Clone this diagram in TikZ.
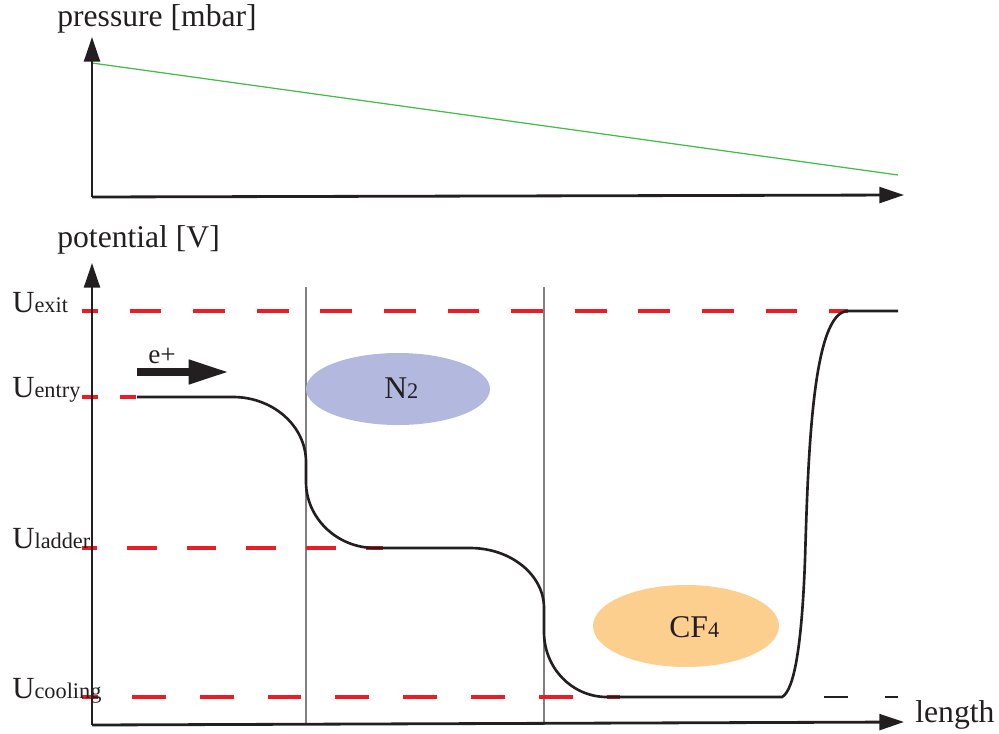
\documentclass[tikz,border=0pt]{standalone}
\usepackage{fontspec}
\setmainfont{Liberation Serif}
\usetikzlibrary{arrows.meta}

\definecolor{levelred}{HTML}{EC1C24}
\definecolor{pressgreen}{HTML}{3DBE45}
\definecolor{nitro}{HTML}{B3B8DE}
\definecolor{cfour}{HTML}{FCCF8E}
\definecolor{inkblack}{HTML}{231F20}

\newcommand{\lvl}[1]{U{\fontsize{12.7}{12.7}\selectfont #1}}

\begin{document}
\begin{tikzpicture}[x=0.02cm,y=-0.02cm,
  axis/.style={line width=1.6pt, draw=inkblack, -{Triangle[length=14pt,width=9pt]}},
  levelline/.style={line width=1.8pt, draw=levelred},
  potential/.style={line width=1.5pt, draw=inkblack},
  divider/.style={line width=0.6pt, draw=black!50},
  biglabel/.style={font=\fontsize{18}{18}\selectfont, text=inkblack, inner sep=0pt, anchor=base west},
  ulabel/.style={font=\fontsize{17.5}{17.5}\selectfont, text=inkblack, inner sep=0pt, anchor=base west},
]
\useasboundingbox (0,0) rectangle (999,733);

% ---------- pressure plot ----------
\coordinate (po) at (92,197);
\coordinate (py) at (92,37);
\coordinate (px) at (904,195);
\coordinate (g1) at (92,63);
\coordinate (g2) at (898,175);
\draw[pressgreen, line width=0.7pt] (g1) -- (g2);
\draw[axis] (po) -- (py);
\draw[axis] (po) -- (px);
\node[biglabel] (plab) at (57,27) {pressure [mbar]};

% ---------- potential plot ----------
\coordinate (o) at (92,725);
\coordinate (vy) at (92,263);
\coordinate (vx) at (904,722);

% region dividers
\coordinate (d1t) at (306,287);
\coordinate (d1b) at (306,725);
\coordinate (d2t) at (544,287);
\coordinate (d2b) at (544,725);
\draw[divider] (d1t) -- (d1b);
\draw[divider] (d2t) -- (d2b);

% gas clouds
\fill[nitro] (398,389) ellipse [x radius=92, y radius=36];
\fill[cfour] (686,626) ellipse [x radius=93, y radius=41];
\node[biglabel] (n2) at (384,398) {N{\fontsize{12.7}{12.7}\selectfont 2}};
\node[biglabel] (cf4) at (669,637) {CF{\fontsize{12.7}{12.7}\selectfont 4}};

% potential levels
\coordinate (ex0) at (82,311);  \coordinate (ex1) at (848,311);
\coordinate (en0) at (82,397);  \coordinate (en1) at (137,397);
\coordinate (la0) at (82,548);  \coordinate (la1) at (383,548);
\coordinate (co0) at (82,697);  \coordinate (co1) at (620,697);
\draw[levelline, dash pattern=on 18.1pt off 18.1pt, dash phase=9.1pt] (ex0) -- (ex1);
\draw[levelline, dash pattern=on 9.1pt off 12.5pt] (en0) -- (en1);
\draw[levelline, dash pattern=on 17pt off 17pt, dash phase=8.5pt] (la0) -- (la1);
\draw[levelline, dash pattern=on 19.3pt off 19.3pt, dash phase=10.2pt] (co0) -- (co1);
\coordinate (bk0) at (824,697); \coordinate (bk1) at (898,697);
\draw[potential, dash pattern=on 13.6pt off 21pt] (bk0) -- (bk1);

% potential curve: entry -> ladder -> cooling -> exit
\coordinate (top) at (898,311);
\draw[potential] (en1) -- (233,397)
  .. controls (273,397) and (306,426) .. (306,462)
  -- (306,482)
  .. controls (306,518) and (337,548) .. (375,548)
  -- (470,548)
  .. controls (511,548) and (544,575) .. (544,608)
  -- (544,632)
  .. controls (544,668) and (572,697) .. (607,697)
  -- (782,697)
  .. controls (795,690) and (802,640) .. (805,560)
  .. controls (808,460) and (812,311) .. (ex1)
  -- (top);

% axes
\draw[axis] (o) -- (vy);
\draw[axis] (o) -- (vx);
\node[biglabel] (vlab) at (57,247) {potential [V]};
\node[biglabel] (llab) at (915,722) {length};

% level labels
\node[ulabel] (uex) at (12,312) {\lvl{exit}};
\node[ulabel] (uen) at (12,397) {\lvl{entry}};
\node[ulabel] (ula) at (12,548) {\lvl{ladder}};
\node[ulabel] (uco) at (12,698) {\lvl{cooling}};

% positron beam
\coordinate (b0) at (137,372);
\coordinate (b1) at (229,372);
\draw[line width=4.5pt, draw=inkblack, -{Triangle[length=23pt,width=13pt]}] (b0) -- (b1);
\node[ulabel, font=\fontsize{15.5}{15.5}\selectfont] (ep) at (148,363) {e+};
\end{tikzpicture}
\end{document}
